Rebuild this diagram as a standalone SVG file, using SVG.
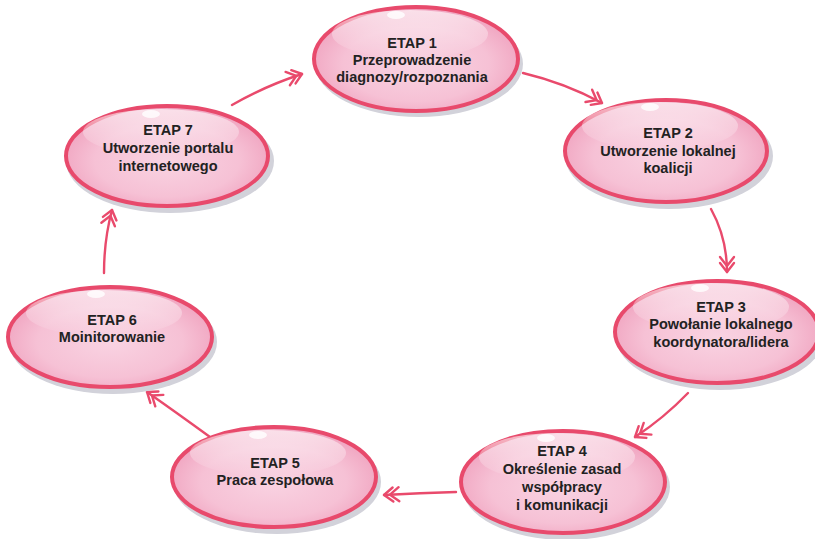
<svg xmlns="http://www.w3.org/2000/svg" width="815" height="539" viewBox="0 0 815 539">
<defs>
<radialGradient id="fillG" cx="50%" cy="55%" r="55%">
<stop offset="0" stop-color="#f9d3e2"/>
<stop offset="0.65" stop-color="#f6c1d5"/>
<stop offset="1" stop-color="#f0a3bf"/>
</radialGradient>
<linearGradient id="hiG" x1="0" y1="0" x2="0" y2="1">
<stop offset="0" stop-color="#ffffff" stop-opacity="0.65"/>
<stop offset="1" stop-color="#ffffff" stop-opacity="0"/>
</linearGradient>
<marker id="dbl" markerUnits="userSpaceOnUse" viewBox="-20 -10 22 20" refX="0" refY="0" markerWidth="22" markerHeight="20" orient="auto" overflow="visible">
<path d="M-9,-7 L0,0 L-9,7 M-15,-7 L-6,0 L-15,7" fill="none" stroke="#e94a6c" stroke-width="2.4" stroke-linecap="round" stroke-linejoin="round"/>
</marker>
</defs>
<style>
.sh{fill:#d2d2da;}
.body{fill:url(#fillG);stroke:#e84a6c;stroke-width:4;}
.hi{fill:url(#hiG);}
.spot{fill:#ffffff;opacity:0.8;}
.t{font-family:"Liberation Sans",Arial,sans-serif;font-weight:bold;font-size:14.5px;fill:#222;text-anchor:middle;}
.c{fill:none;stroke:#e94a6c;stroke-width:2.4;stroke-linecap:round;marker-end:url(#dbl);}
</style>
<rect width="815" height="539" fill="#ffffff"/>

<g id="connectors">
<path class="c" d="M232,105 Q265,86 302,74"/>
<path class="c" d="M523,73 Q565,83 602,103"/>
<path class="c" d="M711,209 Q727,238 727,272"/>
<path class="c" d="M688,393 Q664,418 635,437"/>
<path class="c" d="M456,492 Q420,493 384,495"/>
<path class="c" d="M210,437 Q177,413 147,392"/>
<path class="c" d="M104,273 Q104,240 112,210"/>
</g>

<g id="etap1">
<ellipse class="sh" cx="419" cy="64" rx="104" ry="53"/>
<ellipse class="body" cx="416" cy="59" rx="102" ry="52"/>
<ellipse class="hi" cx="410" cy="34" rx="78" ry="24"/>
<ellipse class="spot" cx="396" cy="15" rx="9" ry="4"/>
<text class="t" x="412" y="48">ETAP 1</text>
<text class="t" x="412" y="65">Przeprowadzenie</text>
<text class="t" x="412" y="82">diagnozy/rozpoznania</text>
</g>

<g id="etap2">
<ellipse class="sh" cx="669" cy="156" rx="104" ry="53"/>
<ellipse class="body" cx="666" cy="151" rx="101" ry="51"/>
<ellipse class="hi" cx="660" cy="126" rx="78" ry="24"/>
<ellipse class="spot" cx="650" cy="107" rx="9" ry="4"/>
<text class="t" x="668" y="138">ETAP 2</text>
<text class="t" x="668" y="156">Utworzenie lokalnej</text>
<text class="t" x="668" y="173">koalicji</text>
</g>

<g id="etap3">
<ellipse class="sh" cx="720" cy="337" rx="104" ry="53"/>
<ellipse class="body" cx="717" cy="332" rx="102" ry="51"/>
<ellipse class="hi" cx="711" cy="307" rx="78" ry="24"/>
<ellipse class="spot" cx="700" cy="288" rx="9" ry="4"/>
<text class="t" x="721" y="312">ETAP 3</text>
<text class="t" x="721" y="329">Powołanie lokalnego</text>
<text class="t" x="721" y="347">koordynatora/lidera</text>
</g>

<g id="etap4">
<ellipse class="sh" cx="566" cy="487" rx="104" ry="53"/>
<ellipse class="body" cx="563" cy="482" rx="102" ry="51"/>
<ellipse class="hi" cx="557" cy="457" rx="78" ry="24"/>
<ellipse class="spot" cx="546" cy="438" rx="9" ry="4"/>
<text class="t" x="562" y="456">ETAP 4</text>
<text class="t" x="562" y="474">Określenie zasad</text>
<text class="t" x="562" y="492">współpracy</text>
<text class="t" x="562" y="510">i komunikacji</text>
</g>

<g id="etap5">
<ellipse class="sh" cx="277" cy="482" rx="104" ry="52"/>
<ellipse class="body" cx="274" cy="477" rx="102" ry="50"/>
<ellipse class="hi" cx="268" cy="453" rx="78" ry="23"/>
<ellipse class="spot" cx="258" cy="435" rx="9" ry="4"/>
<text class="t" x="275" y="468">ETAP 5</text>
<text class="t" x="275" y="485">Praca zespołowa</text>
</g>

<g id="etap6">
<ellipse class="sh" cx="113" cy="342" rx="104" ry="52"/>
<ellipse class="body" cx="110" cy="337" rx="102" ry="50"/>
<ellipse class="hi" cx="104" cy="313" rx="78" ry="23"/>
<ellipse class="spot" cx="96" cy="294" rx="9" ry="4"/>
<text class="t" x="112" y="325">ETAP 6</text>
<text class="t" x="112" y="342">Moinitorowanie</text>
</g>

<g id="etap7">
<ellipse class="sh" cx="170" cy="161" rx="104" ry="52"/>
<ellipse class="body" cx="167" cy="156" rx="101" ry="50"/>
<ellipse class="hi" cx="161" cy="132" rx="78" ry="23"/>
<ellipse class="spot" cx="151" cy="114" rx="9" ry="4"/>
<text class="t" x="168" y="135">ETAP 7</text>
<text class="t" x="168" y="153">Utworzenie portalu</text>
<text class="t" x="168" y="171">internetowego</text>
</g>
</svg>
